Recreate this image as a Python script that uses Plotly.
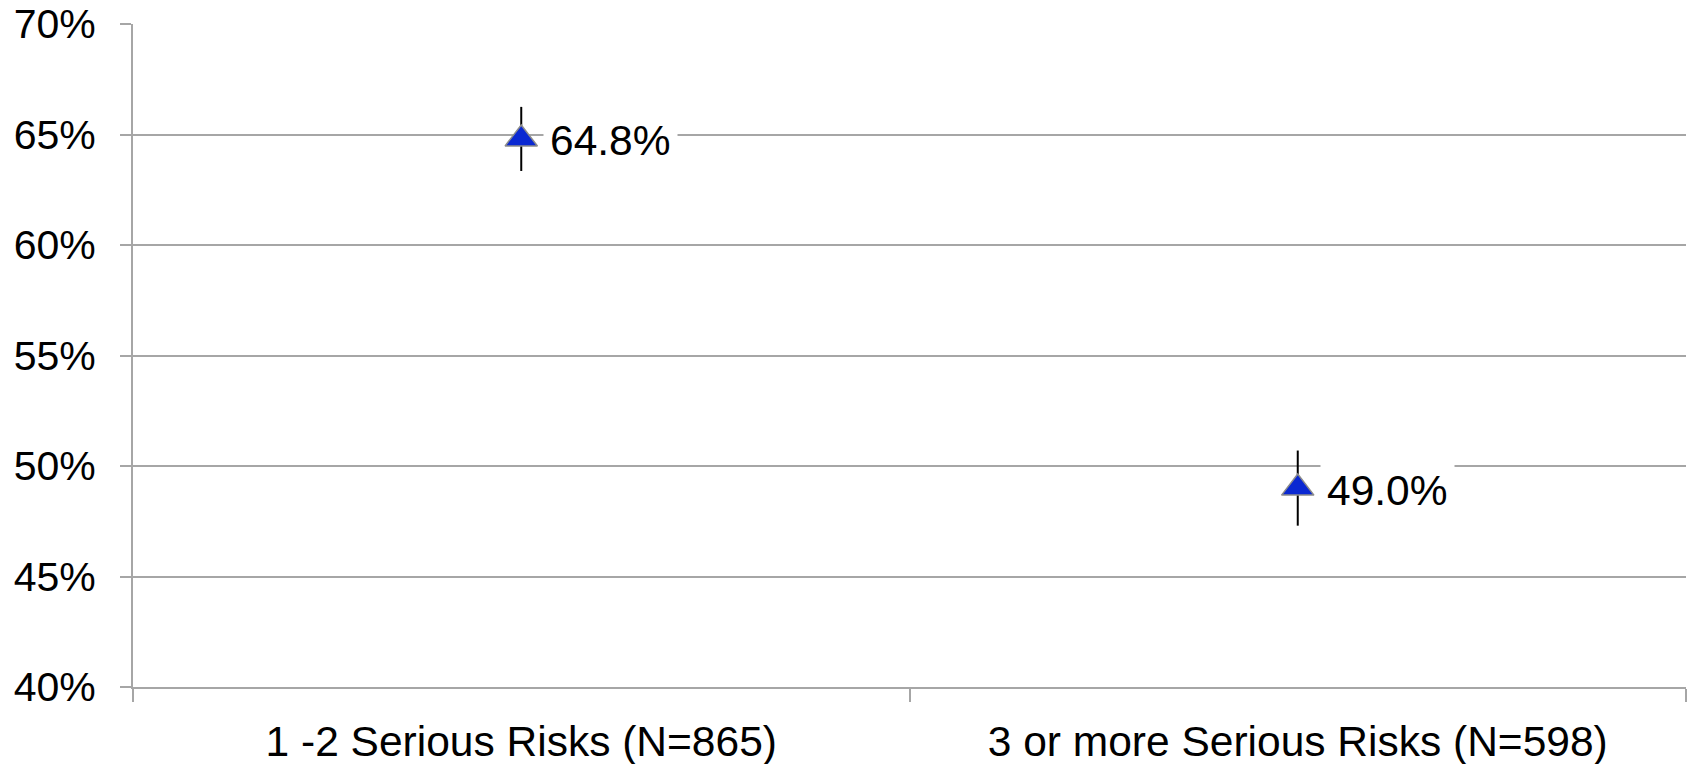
import plotly.graph_objects as go

# Share of respondents by number of serious risks, with confidence intervals
categories = ["1 -2 Serious Risks (N=865)", "3 or more Serious Risks (N=598)"]
values = [64.8, 49.0]
errors = [1.45, 1.7]
y_ticks = [40, 45, 50, 55, 60, 65, 70]

FONT = "Arial, Liberation Sans, sans-serif"
GRID = "#A6A6A6"

fig = go.Figure()
fig.add_trace(go.Scatter(
    x=categories,
    y=values,
    mode="markers",
    marker=dict(symbol="triangle-up", size=28, color="#0A28D2",
                line=dict(color="#8C8C8C", width=1.5)),
    error_y=dict(type="data", array=errors, visible=True,
                 color="black", thickness=2, width=0),
    showlegend=False,
    hoverinfo="skip",
))

# Value labels with a white backing that breaks the gridline
for cat, v in zip(categories, values):
    fig.add_annotation(
        x=cat, y=v, text=f"{v:.1f}%", showarrow=False,
        xanchor="left", yanchor="middle", xshift=22, yshift=-2,
        bgcolor="white", borderpad=6,
        font=dict(family=FONT, size=42.5, color="black"),
    )

fig.update_layout(
    width=1694, height=764,
    margin=dict(l=133, r=8, t=24, b=77),
    paper_bgcolor="white", plot_bgcolor="white",
    font=dict(family=FONT, size=41, color="black"),
    xaxis=dict(
        type="category", range=[-0.5, 1.5], automargin=False,
        showline=True, linecolor=GRID, linewidth=2,
        showgrid=False, tickson="boundaries",
        ticks="outside", ticklen=13, tickwidth=2, tickcolor=GRID,
        ticklabelstandoff=16, tickfont=dict(size=42.5),
    ),
    yaxis=dict(
        range=[40, 70], tickvals=y_ticks, automargin=False,
        ticktext=[f"{t}%" for t in y_ticks],
        showline=True, linecolor=GRID, linewidth=2,
        showgrid=True, gridcolor=GRID, gridwidth=2, zeroline=False,
        ticks="outside", ticklen=11, tickwidth=2, tickcolor=GRID,
        ticklabelstandoff=16,
    ),
)

fig.write_html("out.html")
